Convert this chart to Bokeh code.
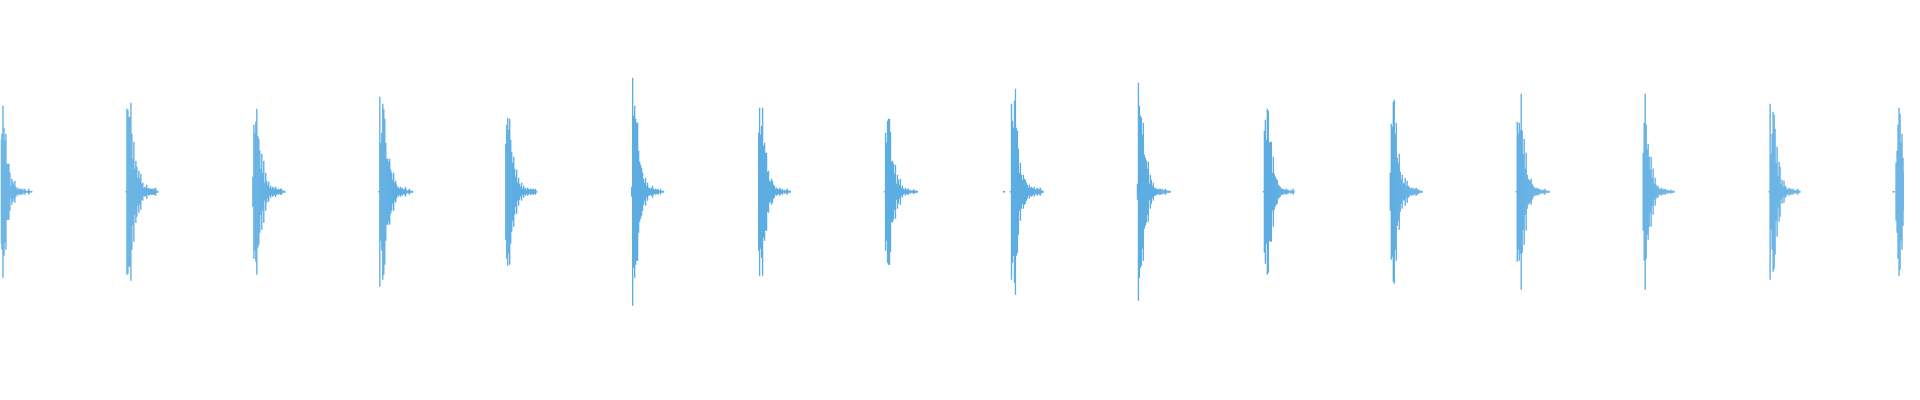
from bokeh.plotting import figure
from bokeh.models import Range1d, ColumnDataSource
from bokeh.embed import file_html
from bokeh.resources import INLINE

# Waveform: sample-column index where each burst starts, and the peak amplitude per column
burst_starts = [0, 126, 254, 381, 509, 636, 764, 891, 1011, 1146, 1273, 1401, 1528, 1656, 1783, 1908]

burst_00 = [52, 58, 86, 64, 51, 58, 28, 28, 28, 19, 6, 13, 10, 7, 11, 5, 3, 4, 2, 3, 3, 2, 3, 1, 3, 1, 1, 1, 3, 1, 0.7, 0.7]
burst_01 = [0.7, 83, 82, 75, 75, 89, 58, 33, 50, 23, 31, 25, 14, 21, 13, 18, 8, 9, 4, 5, 4, 7, 3, 4, 3, 3, 3, 3, 3, 3, 4, 1, 1]
burst_02 = [15, 67, 59, 70, 83, 56, 53, 41, 23, 38, 19, 31, 9, 19, 11, 7, 10, 4, 6, 3, 5, 4, 3, 5, 3, 2, 3, 2, 3, 3, 1, 1, 1]
burst_03 = [0.7, 95, 49, 59, 88, 83, 73, 49, 33, 33, 30, 33, 22, 19, 12, 19, 9, 11, 7, 4, 5, 3, 5, 3, 4, 2, 3, 5, 2, 1, 2, 3, 1, 1, 1]
burst_04 = [48, 67, 74, 62, 73, 52, 40, 29, 35, 23, 15, 22, 9, 14, 8, 5, 9, 3, 6, 3, 4, 2, 4, 3, 2, 3, 3, 2, 3, 2, 3, 1]
burst_05 = [5, 114, 76, 86, 73, 69, 69, 41, 30, 27, 24, 19, 13, 9, 14, 6, 9, 4, 4, 3, 4, 6, 3, 2, 3, 2, 3, 2, 1, 3, 1, 1, 1]
burst_06 = [59, 84, 57, 66, 84, 46, 49, 39, 39, 20, 21, 11, 10, 13, 11, 7, 6, 3, 4, 3, 2, 4, 3, 2, 3, 1, 2, 1, 2, 3, 1, 1, 1]
burst_07 = [0.7, 59, 49, 71, 73, 73, 60, 30, 31, 28, 18, 27, 8, 17, 12, 7, 13, 4, 6, 3, 2, 4, 2, 3, 3, 1, 2, 1, 1, 2, 2, 1, 1, 1]
burst_08 = [0.7, 0.7, 0, 0, 0, 0, 0, 0.7, 88, 71, 64, 91, 103, 64, 61, 43, 19, 29, 17, 12, 17, 13, 12, 9, 7, 4, 7, 4, 5, 4, 3, 5, 2, 3, 4, 2, 3, 4, 2, 1, 1]
burst_09 = [8, 109, 86, 76, 74, 57, 69, 37, 34, 31, 23, 30, 8, 17, 12, 6, 9, 4, 4, 3, 3, 2, 3, 3, 2, 3, 1, 2, 3, 2, 1, 1, 1, 1]
burst_10 = [0.7, 61, 72, 52, 83, 81, 49, 50, 50, 19, 35, 18, 15, 13, 12, 7, 6, 5, 3, 3, 3, 2, 2, 3, 2, 2, 1, 1, 2, 1, 3, 1]
burst_11 = [19, 68, 65, 90, 92, 58, 69, 34, 29, 38, 20, 12, 17, 8, 9, 14, 6, 11, 6, 5, 3, 4, 3, 4, 2, 3, 4, 3, 2, 2, 1, 1, 1]
burst_12 = [0.7, 70, 58, 69, 62, 98, 61, 38, 53, 23, 39, 17, 13, 12, 11, 13, 8, 6, 4, 4, 3, 4, 3, 3, 2, 2, 1, 2, 2, 3, 1, 1, 1, 1]
burst_13 = [39, 69, 98, 67, 43, 48, 35, 22, 35, 14, 23, 8, 14, 7, 5, 6, 3, 3, 4, 2, 3, 2, 3, 2, 1, 2, 1, 1, 2, 1, 1, 1]
burst_14 = [0.7, 88, 38, 58, 80, 77, 63, 29, 45, 16, 30, 25, 8, 12, 5, 11, 6, 5, 3, 2, 4, 3, 3, 2, 3, 1, 2, 1, 2, 3, 1, 1]
burst_15 = [0.7, 0.7, 0, 29, 41, 67, 84, 78, 49, 58, 34, 19]

bursts = [burst_00, burst_01, burst_02, burst_03, burst_04, burst_05, burst_06, burst_07,
          burst_08, burst_09, burst_10, burst_11, burst_12, burst_13, burst_14, burst_15]

total_columns = 1920
wave_color = "#5DADE2"

xs, tops, bottoms = [], [], []
for start, amps in zip(burst_starts, bursts):
    for i, a in enumerate(amps):
        if a <= 0:
            continue
        xs.append(start + i + 0.5)
        tops.append(a)
        bottoms.append(-a)

src = ColumnDataSource(data=dict(x=xs, top=tops, bottom=bottoms))

p = figure(width=1904, height=384, output_backend="svg", toolbar_location=None,
           x_range=Range1d(0, total_columns), y_range=Range1d(-192.7, 191.3),
           min_border=0, min_border_left=0, min_border_right=0,
           min_border_top=0, min_border_bottom=0)
p.vbar(x="x", top="top", bottom="bottom", width=1.35, source=src,
       fill_color=wave_color, line_color=None)

p.axis.visible = False
p.xgrid.visible = False
p.ygrid.visible = False
p.outline_line_color = None
p.background_fill_color = "white"
p.border_fill_color = "white"

open("out.html", "w").write(file_html(p, INLINE))
